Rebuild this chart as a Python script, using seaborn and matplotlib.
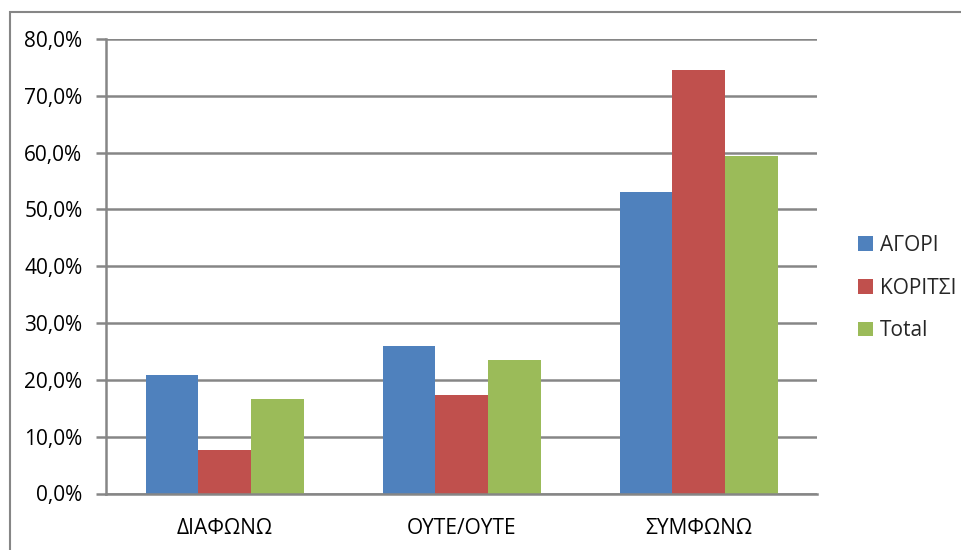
import pandas as pd
import seaborn as sns
import matplotlib.pyplot as plt
from matplotlib.patches import Rectangle
from matplotlib.ticker import FuncFormatter, MultipleLocator, FixedLocator

# values (percent)
categories = ["ΔΙΑΦΩΝΩ", "ΟΥΤΕ/ΟΥΤΕ", "ΣΥΜΦΩΝΩ"]
series = ["ΑΓΟΡΙ", "ΚΟΡΙΤΣΙ", "Total"]
agori = [20.9, 26.0, 53.0]
koritsi = [7.6, 17.4, 74.6]
total = [16.7, 23.5, 59.4]
colors = ["#4F81BD", "#C0504D", "#9BBB59"]

rows = []
for name, vals in zip(series, [agori, koritsi, total]):
    for cat, v in zip(categories, vals):
        rows.append({"category": cat, "series": name, "value": v})
df = pd.DataFrame(rows)

sns.set_style("white")
plt.rcParams["font.family"] = ["Open Sans", "DejaVu Sans"]
plt.rcParams["font.size"] = 15

grey = "#868686"

fig = plt.figure(figsize=(9.61, 5.5), dpi=100)
ax = fig.add_axes([106 / 961, 1 - 493.5 / 550, (817 - 106) / 961, (493.5 - 39) / 550])

sns.barplot(data=df, x="category", y="value", hue="series", order=categories,
            hue_order=series, palette=colors, saturation=1, width=3 / 4.5,
            gap=0, edgecolor="none", ax=ax, errorbar=None)

ax.set_ylim(0, 80)
ax.set_xlim(-0.5, 2.5)
ax.yaxis.set_major_locator(MultipleLocator(10))
ax.yaxis.set_major_formatter(FuncFormatter(lambda v, p: f"{v:.1f}".replace(".", ",") + "%"))
ax.grid(axis="y", color=grey, lw=1.8)
ax.set_axisbelow(True)

ax.xaxis.set_minor_locator(FixedLocator([-0.5, 0.5, 1.5, 2.5]))
ax.tick_params(axis="x", which="major", length=0, pad=18, labelsize=15, colors="black")
ax.tick_params(axis="x", which="minor", length=7, width=1.8, color=grey, direction="out")
ax.tick_params(axis="y", length=7, width=1.8, color=grey, pad=10, labelsize=15,
               labelcolor="black", left=True)

for side in ["top", "right"]:
    ax.spines[side].set_visible(False)
for side in ["left", "bottom"]:
    ax.spines[side].set_color(grey)
    ax.spines[side].set_linewidth(1.8)

ax.set_xlabel("")
ax.set_ylabel("")

leg = ax.legend(loc="center left", bbox_to_anchor=(848 / 961, 1 - 288 / 550),
                bbox_transform=fig.transFigure, frameon=False, fontsize=15,
                handlelength=0.7, handleheight=0.7, handletextpad=0.35,
                labelspacing=1.05, borderpad=0)

# outer chart border
fig.patches.append(Rectangle((10 / 961, -0.1), 1.2, 1.1 - 12 / 550,
                             transform=fig.transFigure, fill=False,
                             edgecolor=grey, lw=1.5))

fig.savefig("out.png", dpi=100)
